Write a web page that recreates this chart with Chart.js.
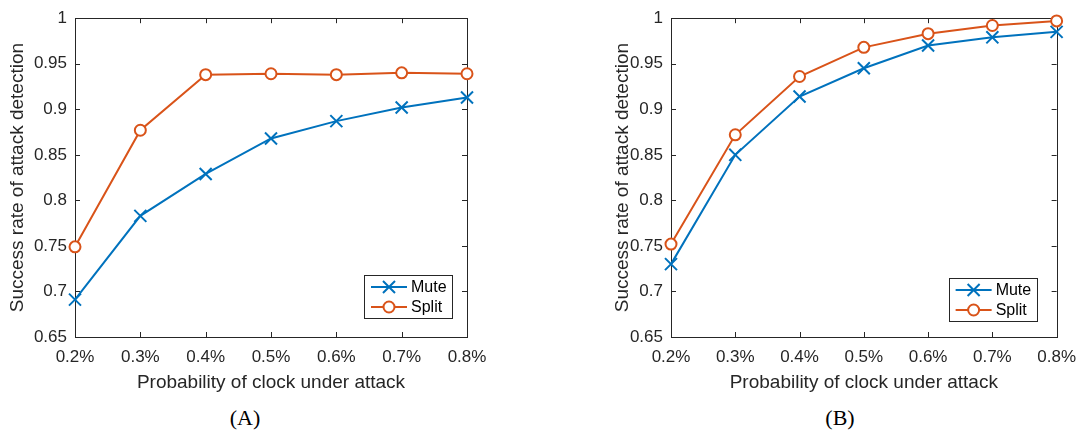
<!DOCTYPE html>
<html>
<head>
<meta charset="utf-8">
<script src="https://cdn.jsdelivr.net/npm/chart.js@4.4.1/dist/chart.umd.min.js"></script>
<style>
  body { margin: 0; background: #fff; width: 1086px; height: 437px; position: relative; overflow: hidden; }
  .wrap { position: absolute; top: 0; width: 543px; height: 400px; }
  .cap { position: absolute; top: 405px; width: 100px; text-align: center;
         font-family: "Liberation Serif", "DejaVu Serif", serif; font-size: 22px; color: #000; }
</style>
</head>
<body>
<div class="wrap" style="left:0"><canvas id="chartA" width="543" height="400"></canvas></div>
<div class="wrap" style="left:543px"><canvas id="chartB" width="543" height="400"></canvas></div>
<div class="cap" style="left:195px">(A)</div>
<div class="cap" style="left:790px">(B)</div>
<script>
// data
const probLabels = ['0.2%', '0.3%', '0.4%', '0.5%', '0.6%', '0.7%', '0.8%'];
const muteA  = [0.691, 0.783, 0.829, 0.868, 0.887, 0.902, 0.913];
const splitA = [0.749, 0.877, 0.938, 0.939, 0.938, 0.940, 0.939];
const muteB  = [0.730, 0.850, 0.914, 0.945, 0.970, 0.979, 0.985];
const splitB = [0.752, 0.872, 0.936, 0.968, 0.983, 0.992, 0.997];
const seriesNames = ['Mute', 'Split'];

const axisColor = '#262626';
const blue = '#0072BD';
const orange = '#D95319';
const sans = '"Liberation Sans", Arial, Helvetica, sans-serif';

// matlab style box with inward ticks on all 4 sides
const boxPlugin = {
  id: 'boxTicks',
  beforeDatasetsDraw(chart) {
    const { ctx, chartArea: a, scales } = chart;
    ctx.save();
    ctx.strokeStyle = axisColor;
    ctx.lineWidth = 1;
    ctx.strokeRect(Math.round(a.left) + 0.5, Math.round(a.top) + 0.5,
                   Math.round(a.right - a.left), Math.round(a.bottom - a.top));
    const len = 5;
    ctx.beginPath();
    scales.x.ticks.forEach((t, i) => {
      const x = Math.round(scales.x.getPixelForTick(i)) + 0.5;
      ctx.moveTo(x, a.bottom); ctx.lineTo(x, a.bottom - len);
      ctx.moveTo(x, a.top); ctx.lineTo(x, a.top + len);
    });
    scales.y.ticks.forEach((t, i) => {
      const y = Math.round(scales.y.getPixelForTick(i)) + 0.5;
      ctx.moveTo(a.left, y); ctx.lineTo(a.left + len, y);
      ctx.moveTo(a.right, y); ctx.lineTo(a.right - len, y);
    });
    ctx.stroke();
    ctx.restore();
  },
  afterDraw(chart, args, opts) {
    // legend box in the lower right corner
    const { ctx, chartArea: a } = chart;
    const w = 88, h = 43;
    const x0 = a.right - opts.right - w;
    const y0 = a.bottom - opts.bottom - h;
    ctx.save();
    ctx.fillStyle = '#fff';
    ctx.fillRect(x0, y0, w, h);
    ctx.strokeStyle = axisColor;
    ctx.lineWidth = 1;
    ctx.strokeRect(Math.round(x0) + 0.5, Math.round(y0) + 0.5, w, h);
    chart.data.datasets.forEach((ds, i) => {
      const y = y0 + 12 + i * 20;
      ctx.strokeStyle = ds.borderColor;
      ctx.lineWidth = 2;
      ctx.beginPath();
      ctx.moveTo(x0 + 7, y); ctx.lineTo(x0 + 43, y);
      ctx.stroke();
      ctx.fillStyle = ds.backgroundColor;
      ctx.strokeStyle = ds.borderColor;
      Chart.helpers.drawPoint(ctx, {
        pointStyle: ds.pointStyle, radius: ds.pointRadius, borderWidth: 2
      }, x0 + 25, y);
      ctx.fillStyle = '#000';
      ctx.font = '16px ' + sans;
      ctx.textBaseline = 'middle';
      ctx.fillText(ds.label, x0 + 47, y + 1);
    });
    ctx.restore();
  }
};

function makeChart(id, mute, split, pad, axisW, legendPos) {
  return new Chart(document.getElementById(id), {
    type: 'line',
    data: {
      labels: probLabels,
      datasets: [
        { label: seriesNames[0], data: mute, borderColor: blue, backgroundColor: blue,
          borderWidth: 2, pointStyle: 'crossRot', pointRadius: 8.5, pointBorderWidth: 2,
          tension: 0, clip: false },
        { label: seriesNames[1], data: split, borderColor: orange, backgroundColor: '#fff',
          borderWidth: 2, pointStyle: 'circle', pointRadius: 5.5, pointBorderWidth: 2,
          tension: 0, clip: false }
      ]
    },
    options: {
      responsive: false,
      animation: false,
      layout: { padding: pad },
      plugins: {
        legend: { display: false },
        tooltip: { enabled: false },
        boxTicks: legendPos
      },
      scales: {
        x: {
          grid: { display: false, drawTicks: false },
          border: { display: false },
          ticks: { color: axisColor, font: { family: sans, size: 17 }, padding: 10, maxRotation: 0, autoSkip: false },
          title: { display: true, text: 'Probability of clock under attack', color: axisColor,
                   font: { family: sans, size: 19 }, padding: { top: 0, bottom: 6 } },
          afterFit(s) { s.height = 63; }
        },
        y: {
          min: 0.65, max: 1,
          grid: { display: false, drawTicks: false },
          border: { display: false },
          ticks: { stepSize: 0.05, color: axisColor, font: { family: sans, size: 17 }, padding: 8,
                   callback: v => String(parseFloat(v.toFixed(2))) },
          title: { display: true, text: 'Success rate of attack detection', color: axisColor,
                   font: { family: sans, size: 19 }, padding: { top: 6, bottom: 0 } },
          afterFit(s) { s.width = axisW; }
        }
      }
    },
    plugins: [boxPlugin]
  });
}

makeChart('chartA', muteA, splitA, { left: 0, right: 76, top: 15, bottom: 0 }, 75, { right: 15, bottom: 19 });
makeChart('chartB', muteB, splitB, { left: 62, right: 24, top: 15, bottom: 0 }, 66, { right: 20, bottom: 16 });
</script>
</body>
</html>
